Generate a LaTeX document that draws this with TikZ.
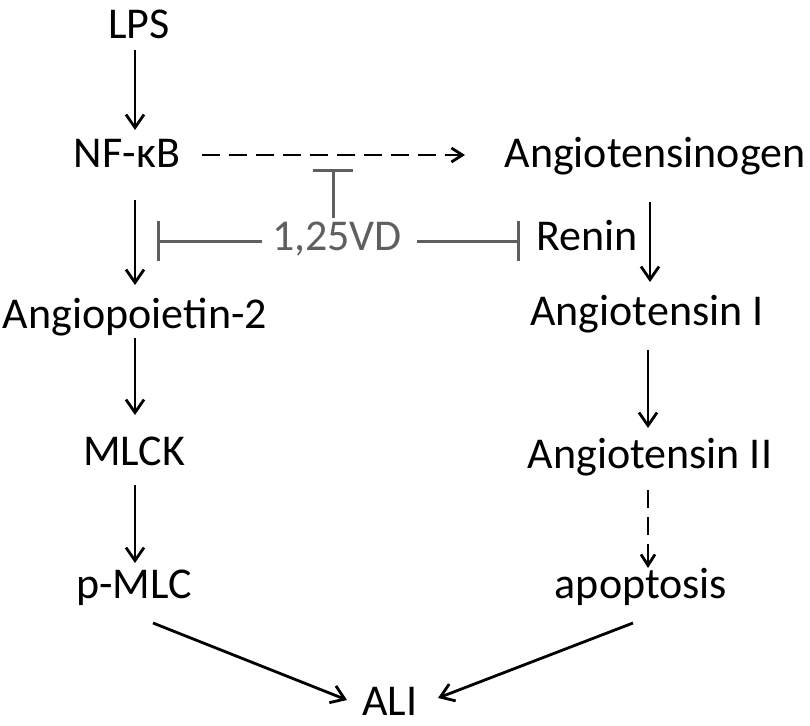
\documentclass[tikz,border=0pt]{standalone}
\usepackage{fontspec}
\setmainfont{Carlito}
\usetikzlibrary{arrows.meta}
\definecolor{vdgray}{RGB}{95,95,95}
\begin{document}
\begin{tikzpicture}[x=1pt,y=-1pt,
  lbl/.style={anchor=base,inner sep=0pt,font=\fontsize{44}{53}\selectfont},
  arr/.style={line width=2.8pt,-{Straight Barb[length=13pt,width=18pt]}},
  darr/.style={line width=2.8pt,dash pattern=on 18pt off 9pt,-{Straight Barb[length=11pt,width=14pt]}},
  inh/.style={vdgray,line width=3pt,-{Bar[width=40pt]}}]
\useasboundingbox (0,0) rectangle (810,725);
\node[lbl] (lps) at (139,38) {LPS};
\node[lbl] (nfkb) at (127,167) {NF-κB};
\node[lbl] (agt) at (655,167) {Angiotensinogen};
\node[lbl,text=vdgray] (vd) at (337,250) {1,25VD};
\node[lbl] (renin) at (587,250) {Renin};
\node[lbl] (ang2) at (135,328) {Angiopoietin-2};
\node[lbl] (at1) at (647,325) {Angiotensin I};
\node[lbl] (mlck) at (134,465) {MLCK};
\node[lbl] (at2) at (650,468) {Angiotensin II};
\node[lbl] (pmlc) at (134,598) {p-MLC};
\node[lbl] (apop) at (641,598) {apoptosis};
\node[lbl] (ali) at (390,715) {ALI};
% left column
\draw[arr] ([xshift=-4pt,yshift=-12pt]lps.base) -- ([xshift=8pt,yshift=37pt]nfkb.base);
\draw[arr] ([xshift=8pt,yshift=-33pt]nfkb.base) -- ([yshift=43pt]ang2.base);
\draw[arr] ([yshift=-10pt]ang2.base) -- ([xshift=1pt,yshift=50pt]mlck.base);
\draw[arr] ([xshift=1pt,yshift=-20pt]mlck.base) -- ([xshift=1pt,yshift=35pt]pmlc.base);
% right column
\draw[arr] ([xshift=-5pt,yshift=-35pt]agt.base) -- ([xshift=3pt,yshift=43pt]at1.base);
\draw[arr] ([xshift=1pt,yshift=-25pt]at1.base) -- ([xshift=-2pt,yshift=40pt]at2.base);
\draw[darr] ([xshift=-2pt,yshift=-22pt]at2.base) -- ([xshift=7pt,yshift=30pt]apop.base);
% to ALI
\draw[arr] ([xshift=19pt,yshift=-25pt]pmlc.base) -- ([xshift=-43pt,yshift=15pt]ali.base);
\draw[arr] ([xshift=-8pt,yshift=-25pt]apop.base) -- ([xshift=48pt,yshift=17pt]ali.base);
% dashed NF-kB -> Angiotensinogen
\draw[darr] ([xshift=75pt,yshift=12pt]nfkb.base) -- ([xshift=-190pt,yshift=12pt]agt.base);
% 1,25VD inhibitions
\draw[inh] ([xshift=-4pt,yshift=32pt]vd.base) -- ([xshift=-4pt,yshift=81pt]vd.base);
\draw[inh] ([xshift=-75pt,yshift=9pt]vd.base) -- ([xshift=-180pt,yshift=9pt]vd.base);
\draw[inh] ([xshift=80pt,yshift=9pt]vd.base) -- ([xshift=-67pt,yshift=9pt]renin.base);
\end{tikzpicture}
\end{document}
